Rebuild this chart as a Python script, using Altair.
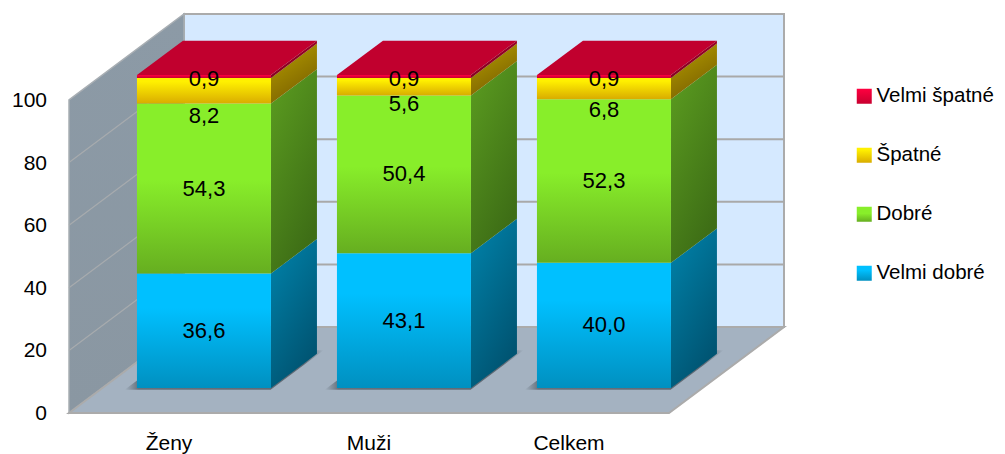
import json
import altair as alt
import pandas as pd

categories = ["Ženy", "Muži", "Celkem"]
series_names = ["Velmi dobré", "Dobré", "Špatné", "Velmi špatné"]
velmi_dobre = [36.6, 43.1, 40.0]
dobre = [54.3, 50.4, 52.3]
spatne = [8.2, 5.6, 6.8]
velmi_spatne = [0.9, 0.9, 0.9]
y_ticks = [0, 20, 40, 60, 80, 100]

series_values = [velmi_dobre, dobre, spatne, velmi_spatne]

FONT = "Liberation Sans"
FS = 22

# projection of the 3D box onto the plot's data space
W, H = 714, 399
PX_CAT, PX_VAL = 200.0, 3.13
DX, DY = 115.0, 86.0
X_MAX, Y_MAX = W / PX_CAT, H / PX_VAL
N = len(categories)
D0, D1 = 0.29, 0.69
CENTER, HALF = 0.508, 0.335


def proj(X, V, d):
    return X + d * DX / PX_CAT, V + d * DY / PX_VAL


def grad(c0, c1, mid=0.0, x2=0.0):
    stops = [{"offset": 0, "color": c0}]
    if mid:
        stops.append({"offset": mid, "color": c0})
    stops.append({"offset": 1, "color": c1})
    return {"gradient": "linear", "x1": 0, "y1": 0, "x2": x2, "y2": 1, "stops": stops}


front_styles = [
    grad("#00C0FF", "#0090C0", 0.3),
    grad("#88EE2A", "#66AE20", 0.45),
    grad("#FFF000", "#D9AC00", 0.15),
    grad("#FF0040", "#C8002F"),
]
side_styles = [
    grad("#0084AC", "#005472", 0, 0.5),
    grad("#5C9E20", "#3E6E16", 0, 0.5),
    grad("#B8A000", "#7C6200", 0, 0.5),
    grad("#A8002A", "#80001E", 0, 0.5),
]

xs = alt.Scale(domain=[0, X_MAX], nice=False, zero=False)
ys = alt.Scale(domain=[0, Y_MAX], nice=False, zero=False)
X = alt.X("x:Q", scale=xs, axis=None, title=None)
Y = alt.Y("y:Q", scale=ys, axis=None, title=None, stack=None)
XH = alt.X("x:Q", scale=xs, axis=None, title=None, stack=None)
YH = alt.Y("y:Q", scale=ys, axis=None, title=None)


def vquad(xa, ya0, ya1, xb, yb0, yb1, key=0):
    return pd.DataFrame(
        [
            {"x": xa, "y": ya0, "y2": ya1, "k": key},
            {"x": xb, "y": yb0, "y2": yb1, "k": key},
        ]
    )


def hquad(ya, xa0, xa1, yb, xb0, xb1, key=0):
    return pd.DataFrame(
        [
            {"y": ya, "x": xa0, "x2": xa1, "k": key},
            {"y": yb, "x": xb0, "x2": xb1, "k": key},
        ]
    )


def vlayer(df, fill, **kw):
    return (
        alt.Chart(df)
        .mark_area(fill=fill, interpolate="linear", orient="vertical", **kw)
        .encode(x=X, y=Y, y2="y2:Q", detail="k:N")
    )


def hlayer(df, fill, **kw):
    return (
        alt.Chart(df)
        .mark_area(fill=fill, interpolate="linear", orient="horizontal", **kw)
        .encode(y=YH, x=XH, x2="x2:Q", detail="k:N")
    )


EDGE = "#ABABAB"
layers = []

# back wall
bx0, by0 = proj(0, 0, 1)
bx1, by1 = proj(N, 100, 1)
layers.append(vlayer(vquad(bx0, by0, by1, bx1, by0, by1), "#D5E9FF", stroke=EDGE, strokeWidth=2))

# left wall
layers.append(
    vlayer(vquad(0, 0, 100, bx0, by0, by1), grad("#8C9AA6", "#8A97A2"), stroke="#A8AEB3", strokeWidth=1.5)
)

# gridlines
rows = []
for t in y_ticks[1:-1]:
    for d in (0, 1):
        a, b = proj(0, t, d)
        rows.append({"x": a, "y": b, "t": f"L{t}", "c": "l"})
    for XX in (0, N):
        a, b = proj(XX, t, 1)
        rows.append({"x": a, "y": b, "t": f"B{t}", "c": "b"})
grid = pd.DataFrame(rows)
layers.append(
    alt.Chart(grid[grid.c == "b"]).mark_line(color="#A9A9A9", strokeWidth=2).encode(x=X, y=Y, detail="t:N")
)
layers.append(
    alt.Chart(grid[grid.c == "l"]).mark_line(color="#A7ABAE", strokeWidth=1.2).encode(x=X, y=Y, detail="t:N")
)

# floor
fa = proj(0, 0, 0)
fb = proj(N, 0, 0)
layers.append(hlayer(hquad(fa[1], fa[0], fb[0], by0, bx0, bx1), "#A4B2C1", stroke=EDGE, strokeWidth=2))

# floor shadows
SH_D0, SH_D1 = 0.27, 0.73
shadow_fill = {
    "gradient": "linear",
    "x1": 0, "y1": 0, "x2": 1, "y2": 0,
    "stops": [
        {"offset": 0, "color": "#A4B2C1"},
        {"offset": 0.07, "color": "#66717C"},
        {"offset": 0.9, "color": "#5E6974"},
        {"offset": 1, "color": "#A4B2C1"},
    ],
}
sh = []
for i in range(N):
    c = i + CENTER
    a0, v0 = proj(c - 0.385, 0, SH_D0)
    a1, _ = proj(c + 0.345, 0, SH_D0)
    b0, v1 = proj(c - 0.385, 0, SH_D1)
    b1, _ = proj(c + 0.345, 0, SH_D1)
    sh.append(hquad(v0, a0, a1, v1, b0, b1, i))
layers.append(hlayer(pd.concat(sh), shadow_fill))

# side faces
for s, vals in enumerate(series_values):
    parts = []
    for i in range(N):
        lo = sum(series_values[k][i] for k in range(s))
        hi = lo + vals[i]
        r = i + CENTER + HALF
        xa, ya0 = proj(r, lo, D0)
        _, ya1 = proj(r, hi, D0)
        xb, yb0 = proj(r, lo, D1)
        _, yb1 = proj(r, hi, D1)
        parts.append(vquad(xa, ya0, ya1, xb, yb0, yb1, i))
    layers.append(vlayer(pd.concat(parts), side_styles[s]))

# top faces
tops = []
for i in range(N):
    top = sum(v[i] for v in series_values)
    c = i + CENTER
    a0, v0 = proj(c - HALF, top, D0)
    a1, _ = proj(c + HALF, top, D0)
    b0, v1 = proj(c - HALF, top, D1)
    b1, _ = proj(c + HALF, top, D1)
    tops.append(hquad(v0, a0, a1, v1, b0, b1, i))
layers.append(hlayer(pd.concat(tops), "#C1002E"))

# front faces (carry the legend)
rows = []
labels = []
for s, vals in enumerate(series_values):
    for i in range(N):
        lo = sum(series_values[k][i] for k in range(s))
        hi = lo + vals[i]
        c = i + CENTER
        x0, y0 = proj(c - HALF, lo, D0)
        x1, y1 = proj(c + HALF, hi, D0)
        rows.append({"x": x0, "x2": x1, "y": y0, "y2": y1, "serie": series_names[s]})
        # thin upper segments have their label pulled below the segment
        ly = (y0 + y1) / 2 if s < 2 else y0 - vals[i] / 2
        labels.append({"x": (x0 + x1) / 2, "y": ly, "t": f"{vals[i]:.1f}".replace(".", ",")})

legend_order = series_names[::-1]
range_exprs = [
    {"expr": json.dumps(front_styles[series_names.index(n)])} for n in legend_order
]
layers.append(
    alt.Chart(pd.DataFrame(rows))
    .mark_rect()
    .encode(
        x=X,
        x2="x2:Q",
        y=YH,
        y2="y2:Q",
        fill=alt.Fill(
            "serie:N",
            scale=alt.Scale(domain=legend_order, range=range_exprs),
            legend=alt.Legend(
                title=None,
                orient="none",
                legendX=785,
                legendY=72,
                symbolType="square",
                symbolSize=225,
                symbolStrokeWidth=0,
                labelFont=FONT,
                labelFontSize=20.5,
                labelColor="#000000",
                labelLimit=200,
                labelOffset=2,
                rowPadding=38,
                padding=0,
            ),
        ),
    )
)

# data labels
layers.append(
    alt.Chart(pd.DataFrame(labels))
    .mark_text(font=FONT, fontSize=FS, color="#000000", baseline="middle", align="center")
    .encode(x=X, y=YH, text="t:N")
)

# tick labels
layers.append(
    alt.Chart(pd.DataFrame({"x": [0.0] * len(y_ticks), "y": y_ticks, "t": [str(t) for t in y_ticks]}))
    .mark_text(font=FONT, fontSize=21, color="#000000", baseline="middle", align="right", dx=-22, dy=1)
    .encode(x=X, y=YH, text="t:N")
)
layers.append(
    alt.Chart(pd.DataFrame({"x": [i + 0.5 for i in range(N)], "y": [0.0] * N, "t": categories}))
    .mark_text(font=FONT, fontSize=21, color="#000000", baseline="middle", align="center", dy=31)
    .encode(x=X, y=YH, text="t:N")
)

chart = (
    alt.layer(*layers)
    .properties(
        width=W,
        height=H,
        autosize=alt.AutoSizeParams(type="none"),
        padding={"left": 61, "top": 6, "right": 214, "bottom": 41},
        background="#FFFFFF",
    )
    .configure_view(stroke=None)
)
chart.save("out.html", embed_options={"renderer": "svg", "actions": False})
